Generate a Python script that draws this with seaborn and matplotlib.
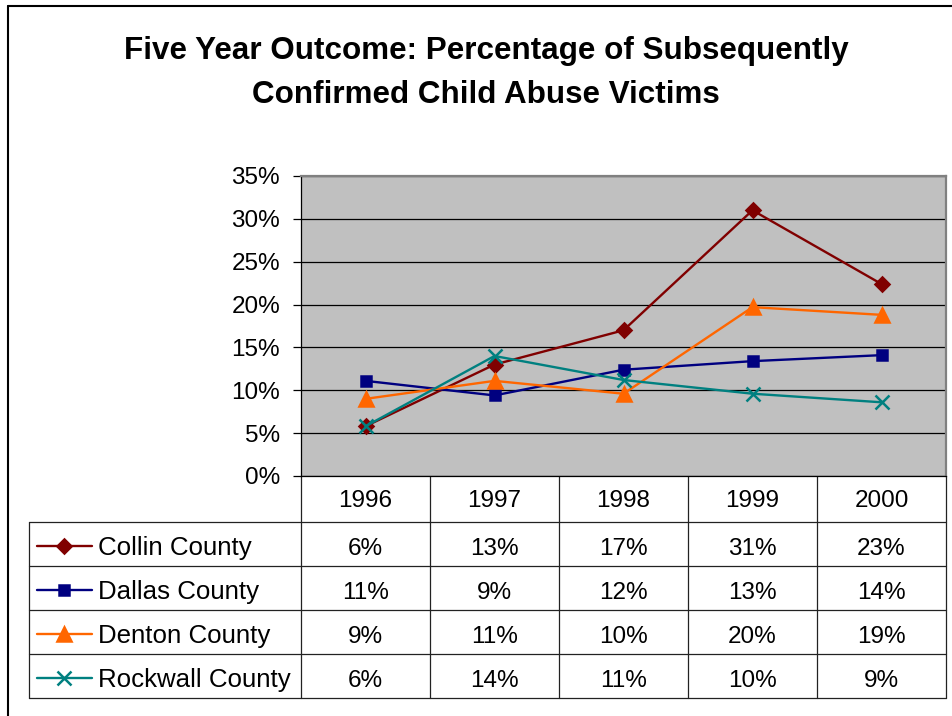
import numpy as np
import pandas as pd
import matplotlib
matplotlib.use('Agg')
import matplotlib.pyplot as plt
import seaborn as sns
from matplotlib.lines import Line2D

sns.set_style('white')
plt.rcParams['font.family'] = ['Liberation Sans', 'DejaVu Sans']
plt.rcParams['text.color'] = 'black'
plt.rcParams['ytick.color'] = 'black'
plt.rcParams['xtick.color'] = 'black'

'''Data read off the chart'''
years = ['1996', '1997', '1998', '1999', '2000']
counties = ['Collin County', 'Dallas County', 'Denton County', 'Rockwall County']
collin = [5.8, 13.0, 17.0, 31.0, 22.4]
dallas = [11.1, 9.4, 12.4, 13.4, 14.1]
denton = [9.0, 11.1, 9.6, 19.7, 18.8]
rockwall = [5.8, 14.0, 11.2, 9.6, 8.6]

'''Labels as printed in the data table'''
collin_lbl = ['6%', '13%', '17%', '31%', '23%']
dallas_lbl = ['11%', '9%', '12%', '13%', '14%']
denton_lbl = ['9%', '11%', '10%', '20%', '19%']
rockwall_lbl = ['6%', '14%', '11%', '10%', '9%']

yticks = [0, 5, 10, 15, 20, 25, 30, 35]

colors = ['#800000', '#000080', '#FF6600', '#008080']
markers = ['D', 's', '^', 'x']
msizes = [7.5, 7.5, 10, 9.5]

series = [collin, dallas, denton, rockwall]
labels = [collin_lbl, dallas_lbl, denton_lbl, rockwall_lbl]

W, H = 952, 716
fig = plt.figure(figsize=(W / 100, H / 100), dpi=100)

# plot area (pixel box of the reference)
px_l, px_r, px_t, px_b = 301, 946, 176, 476
ax = fig.add_axes([px_l / W, 1 - px_b / H, (px_r - px_l) / W, (px_b - px_t) / H])
ax.set_facecolor('#C0C0C0')

for vals, c, m, ms in zip(series, colors, markers, msizes):
    sns.lineplot(x=years, y=vals, color=c, marker=m, markersize=ms,
                 markeredgecolor=c, markerfacecolor=c, markeredgewidth=1.8,
                 linewidth=1.7, ax=ax, legend=False, sort=False, zorder=3)

ax.set_xlim(-0.5, len(years) - 0.5)
ax.set_ylim(0, 35)
ax.set_yticks(yticks)
ax.set_yticklabels([f'{v}%' for v in yticks], fontsize=17.5)
ax.yaxis.grid(True, color='black', linewidth=0.9)
ax.xaxis.grid(False)
ax.tick_params(axis='x', bottom=False, labelbottom=False)
ax.tick_params(axis='y', left=True, direction='out', length=6, width=0.9,
               color='black', labelcolor='black', pad=9)
ax.set_xlabel('')
ax.set_ylabel('')
ax.spines['left'].set_color('black')
ax.spines['left'].set_linewidth(0.9)
ax.spines['bottom'].set_color('black')
ax.spines['bottom'].set_linewidth(0.9)
for s in ['top', 'right']:
    ax.spines[s].set_color('#808080')
    ax.spines[s].set_linewidth(1.6)

# data table drawn in pixel coordinates
tab = fig.add_axes([0, 0, 1, 1], zorder=-1)
tab.set_xlim(0, W)
tab.set_ylim(H, 0)
tab.axis('off')

col_w = (px_r - px_l) / len(years)
col_edges = [px_l + i * col_w for i in range(len(years) + 1)]
head_b = 522
row_h = 44
tab_l = 29
row_edges = [head_b + i * row_h for i in range(len(counties) + 1)]
lc = '#222222'

for x in col_edges:
    tab.plot([x, x], [px_b, row_edges[-1]], color=lc, lw=0.9)
tab.plot([tab_l, tab_l], [head_b, row_edges[-1]], color=lc, lw=0.9)
for y in row_edges:
    tab.plot([tab_l, px_r], [y, y], color=lc, lw=0.9)

for i, yr in enumerate(years):
    cx = (col_edges[i] + col_edges[i + 1]) / 2
    tab.text(cx, px_b + 31, yr, ha='center', va='baseline', fontsize=17.5)

for r, (name, lbls, c, m, ms) in enumerate(zip(counties, labels, colors, markers, msizes)):
    top = row_edges[r]
    cy = top + row_h / 2 + 2
    tab.add_line(Line2D([37, 92], [cy, cy], color=c, lw=1.7))
    tab.add_line(Line2D([64], [cy], color=c, marker=m, markersize=ms,
                        markeredgecolor=c, markerfacecolor=c, markeredgewidth=1.8))
    tab.text(98, top + 33, name, ha='left', va='baseline', fontsize=18.6)
    for i, lb in enumerate(lbls):
        cx = (col_edges[i] + col_edges[i + 1]) / 2
        tab.text(cx, top + 33, lb, ha='center', va='baseline', fontsize=17.5)

# outer frame (left and top only visible)
tab.plot([8, 8], [6, H], color='black', lw=1.5)
tab.plot([8, W], [6, 6], color='black', lw=1.5)

fig.text(486 / W, 1 - 59 / H, 'Five Year Outcome: Percentage of Subsequently',
         ha='center', va='baseline', fontsize=22.6, fontweight='bold')
fig.text(486 / W, 1 - 103 / H, 'Confirmed Child Abuse Victims',
         ha='center', va='baseline', fontsize=22.6, fontweight='bold')

fig.savefig('out.png', dpi=100)
